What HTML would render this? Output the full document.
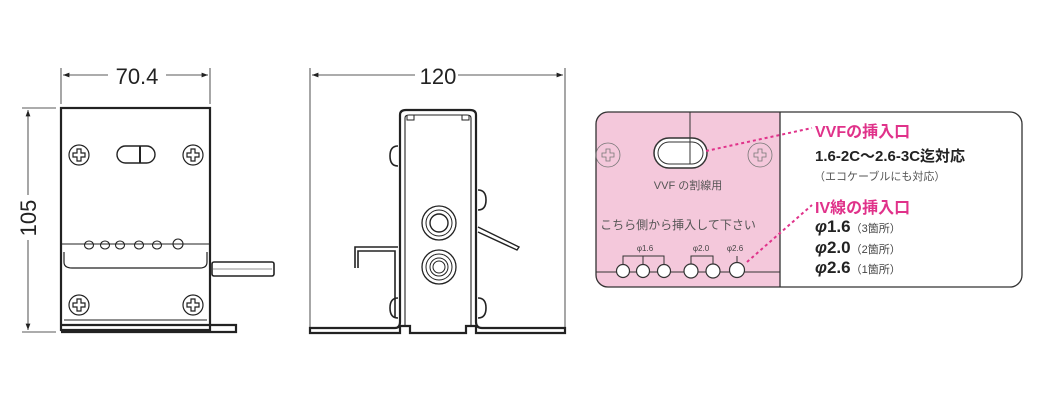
<!DOCTYPE html>
<html><head><meta charset="utf-8"><style>
html,body{margin:0;padding:0;background:#fff;width:1040px;height:400px;overflow:hidden}
text{font-family:"Liberation Sans","Noto Sans CJK JP",sans-serif}
</style></head><body>
<svg width="1040" height="400" viewBox="0 0 1040 400" xmlns="http://www.w3.org/2000/svg">
<defs>
<marker id="ar" markerWidth="8" markerHeight="6" refX="8" refY="3" orient="auto-start-reverse"><path d="M0,0 L8,3 L0,6 z" fill="#222"/></marker>
<g id="scr"><circle r="10" fill="#fff" stroke="#222" stroke-width="1.2"/><path d="M-2,-6h4v4h4v4h-4v4h-4v-4h-4v-4h4z" fill="none" stroke="#222" stroke-width="1.2"/></g>
</defs>
<g stroke="#222" fill="none">
<line x1="61" y1="68" x2="61" y2="104" stroke-width="0.8"/>
<line x1="210" y1="68" x2="210" y2="104" stroke-width="0.8"/>
<line x1="63" y1="75" x2="108" y2="75" stroke-width="0.8" marker-start="url(#ar)"/>
<line x1="166" y1="75" x2="208" y2="75" stroke-width="0.8" marker-end="url(#ar)"/>
<line x1="22" y1="108" x2="56" y2="108" stroke-width="0.8"/>
<line x1="22" y1="332" x2="56" y2="332" stroke-width="0.8"/>
<line x1="28" y1="110" x2="28" y2="195" stroke-width="0.8" marker-start="url(#ar)"/>
<line x1="28" y1="240" x2="28" y2="330" stroke-width="0.8" marker-end="url(#ar)"/>
<rect x="61" y="108" width="149" height="222" stroke-width="2.2"/>
<path d="M61,325 H236 V332 H61" stroke-width="2.2"/>
<line x1="61" y1="244" x2="210" y2="244" stroke-width="1"/>
<path d="M64,252 V262 Q64,268 72,268 H200 Q207,268 207,262 V252" stroke-width="1.2"/>
<line x1="64" y1="320" x2="207" y2="320" stroke-width="1"/>
<rect x="212" y="262" width="62" height="14" rx="2" stroke-width="1.6"/>
<line x1="213" y1="269" x2="272" y2="269" stroke-width="0.6"/>
<rect x="117" y="146" width="38" height="17" rx="8.5" stroke-width="1.4"/>
<line x1="140" y1="146" x2="140" y2="163" stroke-width="2"/>
<g stroke-width="1.1"><ellipse cx="89" cy="245" rx="4.5" ry="4"/><ellipse cx="105" cy="245" rx="4.5" ry="4"/><ellipse cx="120" cy="245" rx="4.5" ry="4"/><ellipse cx="139" cy="245" rx="4.5" ry="4"/><ellipse cx="157" cy="245" rx="4.5" ry="4"/><ellipse cx="178" cy="244" rx="5" ry="5"/></g>
</g>
<use href="#scr" x="79" y="155"/><use href="#scr" x="193" y="155"/>
<use href="#scr" x="79" y="305"/><use href="#scr" x="193" y="305"/>
<text x="137" y="84" font-size="22" text-anchor="middle" fill="#222">70.4</text>
<text x="0" y="0" font-size="22" text-anchor="middle" fill="#222" transform="translate(36,218) rotate(-90)">105</text>

<g stroke="#222" fill="none">
<line x1="310" y1="68" x2="310" y2="330" stroke-width="0.8"/>
<line x1="565" y1="68" x2="565" y2="330" stroke-width="0.8"/>
<line x1="312" y1="75" x2="415" y2="75" stroke-width="0.8" marker-start="url(#ar)"/>
<line x1="458" y1="75" x2="563" y2="75" stroke-width="0.8" marker-end="url(#ar)"/>
<path d="M310,328 H395 Q400,328 400,322 V115 Q400,110 406,110 H470 Q476,110 476,115 V322 Q476,328 482,328 H565 V333 H476 V326 H466 V333 H410 V326 H400 V333 H310 Z" stroke-width="2.2"/>
<path d="M405,325 V118 Q405,115 409,115 H467 Q471,115 471,118 V325" stroke-width="1.1"/>
<path d="M407,115 V120 H414 V115 M462,115 V120 H469 V115" stroke-width="1"/>
<path d="M398,146 Q390,146 390,156 Q390,166 398,166" stroke-width="1.6"/>
<path d="M478,190 Q486,190 486,200 Q486,210 478,210" stroke-width="1.6"/>
<path d="M398,298 Q390,298 390,308 Q390,318 398,318" stroke-width="1.6"/>
<path d="M478,298 Q486,298 486,308 Q486,318 478,318" stroke-width="1.6"/>
<path d="M355,268 V247 H398 M358,268 V251 H395 V318" stroke-width="1.6"/>
<path d="M478,227 L519,247 L517,250 L478,232" stroke-width="1.4"/>
<circle cx="439" cy="223" r="17" stroke-width="1.3"/><circle cx="439" cy="223" r="13" stroke-width="1"/><circle cx="439" cy="223" r="9" stroke-width="1.4"/>
<circle cx="439" cy="267" r="17" stroke-width="1.3"/><circle cx="439" cy="267" r="13" stroke-width="1"/><circle cx="439" cy="267" r="9" stroke-width="1"/><circle cx="439" cy="267" r="6" stroke-width="1"/>
</g>
<text x="438" y="84" font-size="22" text-anchor="middle" fill="#222">120</text>

<path d="M608,112 H780 V287 H608 Q596,287 596,275 V124 Q596,112 608,112 Z" fill="#f4c8db"/>
<rect x="596" y="112" width="426" height="175" rx="12" fill="none" stroke="#333" stroke-width="1.3"/>
<line x1="780" y1="112" x2="780" y2="287" stroke="#333" stroke-width="1.3"/>
<line x1="690" y1="112" x2="690" y2="137" stroke="#333" stroke-width="1"/>
<line x1="596" y1="272" x2="780" y2="272" stroke="#333" stroke-width="1"/>
<rect x="654" y="138" width="53" height="30" rx="15" fill="#fff" stroke="#333" stroke-width="1.5"/>
<rect x="658" y="142" width="45" height="22" rx="11" fill="#fff" stroke="#333" stroke-width="1"/>
<line x1="690" y1="137" x2="690" y2="164" stroke="#333" stroke-width="1"/>
<g fill="none" stroke="#777" stroke-width="0.8">
<circle cx="608" cy="155" r="12"/><path d="M606,149h4v4h4v4h-4v4h-4v-4h-4v-4h4z"/>
<circle cx="760" cy="155" r="12"/><path d="M758,149h4v4h4v4h-4v4h-4v-4h-4v-4h4z"/>
</g>
<text x="688" y="189" font-size="11" text-anchor="middle" fill="#555">VVF の割線用</text>
<text x="678" y="229" font-size="12" text-anchor="middle" fill="#555">こちら側から挿入して下さい</text>
<text x="645" y="251" font-size="8" text-anchor="middle" fill="#444">φ1.6</text>
<text x="701" y="251" font-size="8" text-anchor="middle" fill="#444">φ2.0</text>
<text x="735" y="251" font-size="8" text-anchor="middle" fill="#444">φ2.6</text>
<g stroke="#333" stroke-width="1" fill="none">
<path d="M623,265 V256 H664 V265 M643,256 V265"/>
<path d="M691,265 V256 H713 V265"/>
<path d="M737,263 V256"/>
</g>
<g fill="#fff" stroke="#333" stroke-width="1.2">
<circle cx="623" cy="271" r="6.5"/><circle cx="643" cy="271" r="6.5"/><circle cx="664" cy="271" r="6.5"/>
<circle cx="691" cy="271" r="7"/><circle cx="713" cy="271" r="7"/><circle cx="737" cy="270" r="7.5"/>
</g>
<g stroke="#e0328a" stroke-width="2" stroke-dasharray="3,3" fill="none">
<line x1="706" y1="151" x2="812" y2="128"/>
<line x1="747" y1="262" x2="812" y2="205"/>
</g>
<g fill="#e0328a" font-weight="bold" font-size="16">
<text x="815" y="137">VVFの挿入口</text>
<text x="815" y="213">IV線の挿入口</text>
</g>
<text x="815" y="161" font-size="15" fill="#222" font-weight="600">1.6-2C～2.6-3C迄対応</text>
<text x="814" y="180" font-size="11" fill="#555">（エコケーブルにも対応）</text>
<g fill="#222" font-weight="600"><text x="815" y="232" font-size="17"><tspan font-style="italic">φ</tspan>1.6<tspan font-size="11" font-weight="normal" fill="#444">（3箇所）</tspan></text>
<text x="815" y="253" font-size="17"><tspan font-style="italic">φ</tspan>2.0<tspan font-size="11" font-weight="normal" fill="#444">（2箇所）</tspan></text>
<text x="815" y="273" font-size="17"><tspan font-style="italic">φ</tspan>2.6<tspan font-size="11" font-weight="normal" fill="#444">（1箇所）</tspan></text></g>
</svg>
</body></html>
